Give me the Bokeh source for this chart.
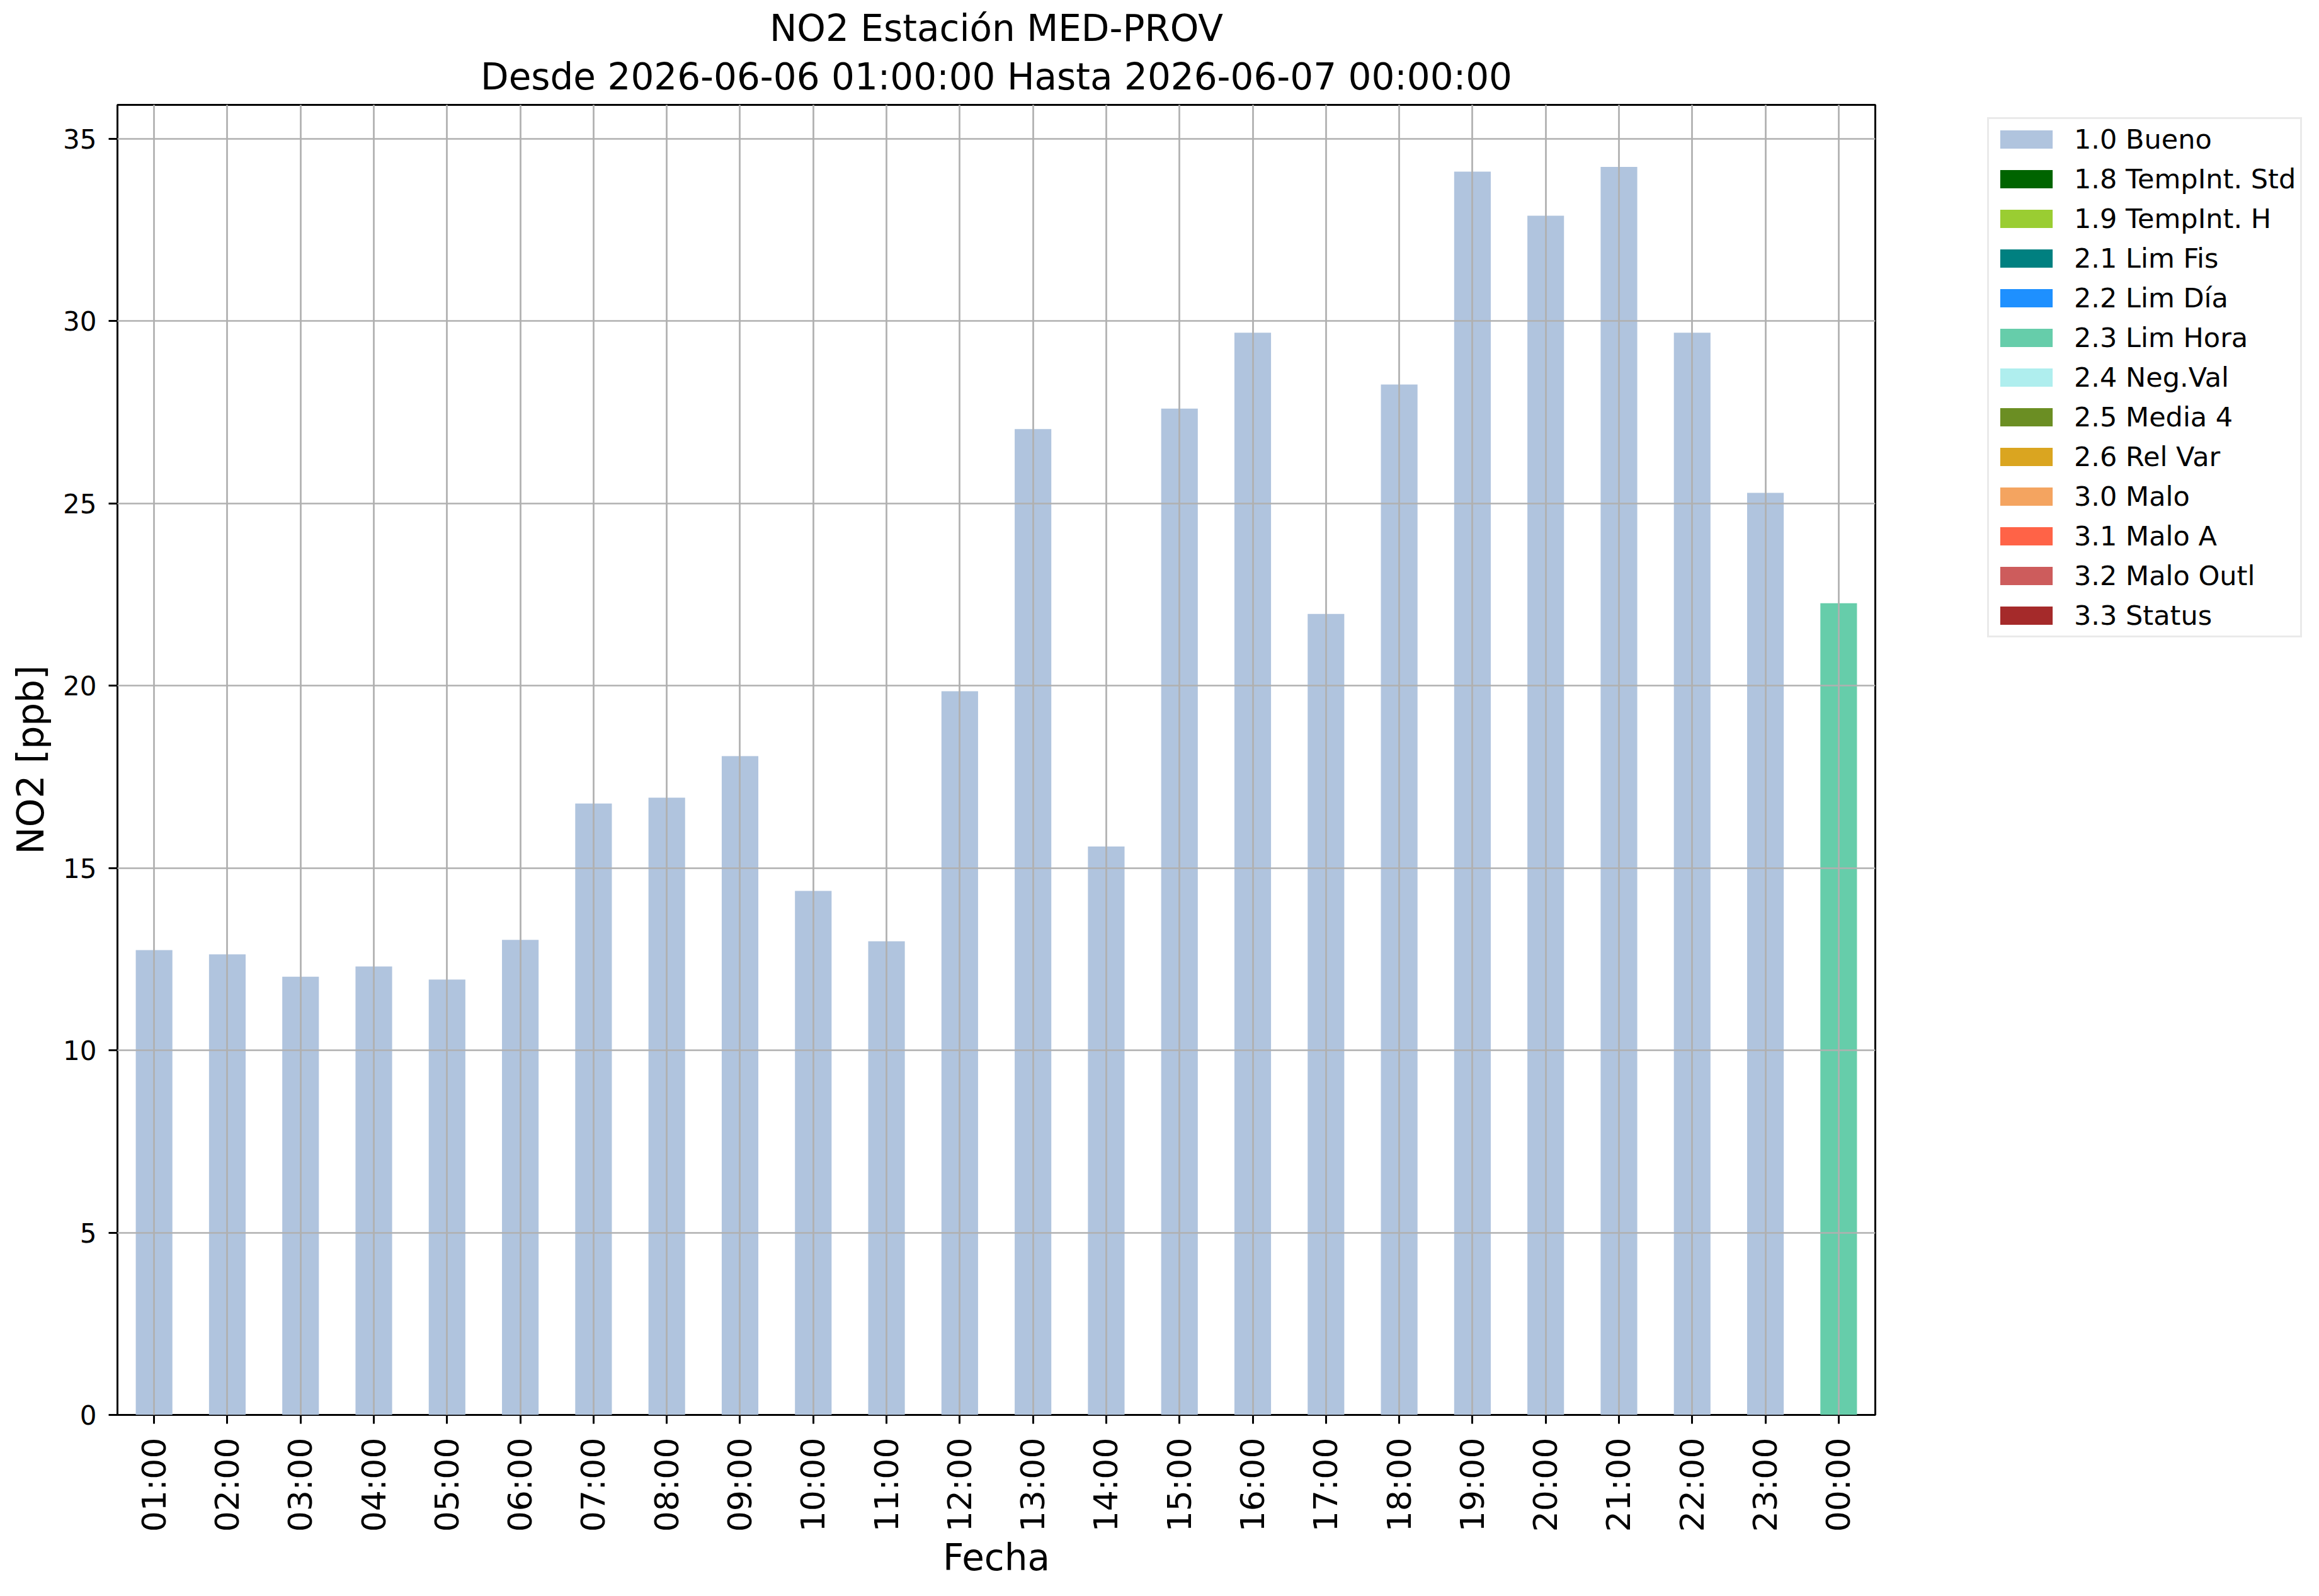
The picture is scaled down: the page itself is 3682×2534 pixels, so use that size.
import math
from bokeh.plotting import figure
from bokeh.layouts import row
from bokeh.models import (ColumnDataSource, Range1d, FactorRange, SingleIntervalTicker,
                          Legend, LegendItem, Title)
from bokeh.embed import file_html
from bokeh.resources import INLINE

# ---------------- data ----------------
hours = ["01:00", "02:00", "03:00", "04:00", "05:00", "06:00", "07:00", "08:00",
         "09:00", "10:00", "11:00", "12:00", "13:00", "14:00", "15:00", "16:00",
         "17:00", "18:00", "19:00", "20:00", "21:00", "22:00", "23:00", "00:00"]
no2_values = [12.75, 12.63, 12.02, 12.30, 11.94, 13.03, 16.77, 16.93,
              18.07, 14.37, 12.99, 19.85, 27.04, 15.59, 27.60, 29.68,
              21.97, 28.26, 34.10, 32.89, 34.23, 29.68, 25.29, 22.26]
hour_flags = ["1.0 Bueno"] * 23 + ["2.3 Lim Hora"]
flag_labels = ["1.0 Bueno", "1.8 TempInt. Std", "1.9 TempInt. H", "2.1 Lim Fis",
               "2.2 Lim Día", "2.3 Lim Hora", "2.4 Neg.Val", "2.5 Media 4",
               "2.6 Rel Var", "3.0 Malo", "3.1 Malo A", "3.2 Malo Outl", "3.3 Status"]
flag_colors = ["#B0C4DE", "#006400", "#9ACD32", "#008080", "#1E90FF", "#66CDAA",
               "#AFEEEE", "#6B8E23", "#DAA520", "#F4A460", "#FF6347", "#CD5C5C",
               "#A52A2A"]
title_line1 = "NO2 Estación MED-PROV"
title_line2 = "Desde 2026-06-06 01:00:00 Hasta 2026-06-07 00:00:00"
x_label = "Fecha"
y_label = "NO2 [ppb]"
y_ticks_interval = 5
y_max = 35.93

# ---------------- source ----------------
data = {"hour": hours}
keys = []
for i, lab in enumerate(flag_labels):
    k = "f%d" % i
    keys.append(k)
    data[k] = [v if f == lab else 0.0 for v, f in zip(no2_values, hour_flags)]
source = ColumnDataSource(data)

FONT = "DejaVu Sans"
W_TOTAL, H = 3674, 2526
FL, FR, FT, FB = 186, 2977, 166, 2246
LEG_X = 3155           # left edge of legend box on the page
LEG_BOTTOM = 1012      # bottom edge of legend box on the page
W_MAIN = LEG_X
W_LEG = W_TOTAL - W_MAIN

p = figure(width=W_MAIN, height=H,
           x_range=FactorRange(*hours, range_padding=0),
           y_range=Range1d(0, y_max),
           output_backend="svg", toolbar_location=None,
           min_border_left=FL, min_border_right=W_MAIN - FR,
           min_border_top=FT, min_border_bottom=H - FB)
p.title.text = ""

renderers = p.vbar_stack(keys, x="hour", width=0.5, color=flag_colors,
                         line_color=None, source=source)

# titles
t2 = Title(text=title_line2, align="center", text_font=FONT, text_font_size="58px",
           text_font_style="normal", text_color="black", standoff=22)
t1 = Title(text=title_line1, align="center", text_font=FONT, text_font_size="58px",
           text_font_style="normal", text_color="black", standoff=0)
try:
    t1.standoff = -9
except Exception:
    t1.standoff = 0
p.add_layout(t2, "above")
p.add_layout(t1, "above")

# frame
p.outline_line_color = "black"
p.outline_line_width = 3
p.background_fill_color = "white"
p.border_fill_color = "white"

# grid
for g in (p.xgrid, p.ygrid):
    g.grid_line_color = "#b0b0b0"
    g.grid_line_width = 2.7
    g.level = "overlay"

# axes
for ax in (p.xaxis[0], p.yaxis[0]):
    ax.axis_line_color = None
    ax.major_tick_line_color = "black"
    ax.major_tick_line_width = 3
    ax.major_tick_in = 0
    ax.major_tick_out = 14
    ax.minor_tick_line_color = None
    ax.major_label_text_font = FONT
    ax.axis_label_text_font = FONT
    ax.axis_label_text_font_style = "normal"
    ax.axis_label_text_font_size = "58px"
    ax.axis_label_text_color = "black"
    ax.major_label_text_color = "black"

p.yaxis[0].ticker = SingleIntervalTicker(interval=y_ticks_interval)
p.yaxis[0].major_label_text_font_size = "42px"
p.yaxis[0].major_label_standoff = 19
p.yaxis[0].axis_label = y_label
p.yaxis[0].axis_label_standoff = 14

p.xaxis[0].major_label_text_font_size = "52px"
p.xaxis[0].major_label_orientation = math.pi / 2
p.xaxis[0].major_label_standoff = 22
p.xaxis[0].axis_label = x_label
p.xaxis[0].axis_label_standoff = 4

# ---------------- legend panel (separate figure to the right) ----------------
# Its frame is aligned with the main frame by the row layout (top FT, bottom FB).
# The x range holds no hour factor, so the proxy bars below are not drawn here.
pl = figure(width=W_LEG, height=H, x_range=FactorRange("legend"), y_range=Range1d(0, 1),
            x_axis_type=None, y_axis_type=None,
            output_backend="svg", toolbar_location=None,
            min_border_left=0, min_border_right=0, min_border_top=0, min_border_bottom=0)
pl.title.text = ""
pl.outline_line_color = None
pl.grid.visible = False
pl.background_fill_color = "white"
pl.border_fill_color = "white"

legend_renderers = pl.vbar_stack(keys, x="hour", width=0.5, color=flag_colors,
                                 line_color=None, source=source)
items = [LegendItem(label=lab, renderers=[r]) for lab, r in zip(flag_labels, legend_renderers)]
legend = Legend(items=items, location=(0, FB - LEG_BOTTOM), margin=0, padding=7,
                glyph_width=104, glyph_height=36, label_height=36,
                label_standoff=24, spacing=13,
                label_text_font=FONT, label_text_font_size="43px",
                label_text_color="black",
                border_line_color="#d6d6d6", border_line_width=3,
                background_fill_color="white", background_fill_alpha=1.0)
pl.add_layout(legend, "center")

layout = row(p, pl)
open("out.html", "w").write(file_html(layout, INLINE))
